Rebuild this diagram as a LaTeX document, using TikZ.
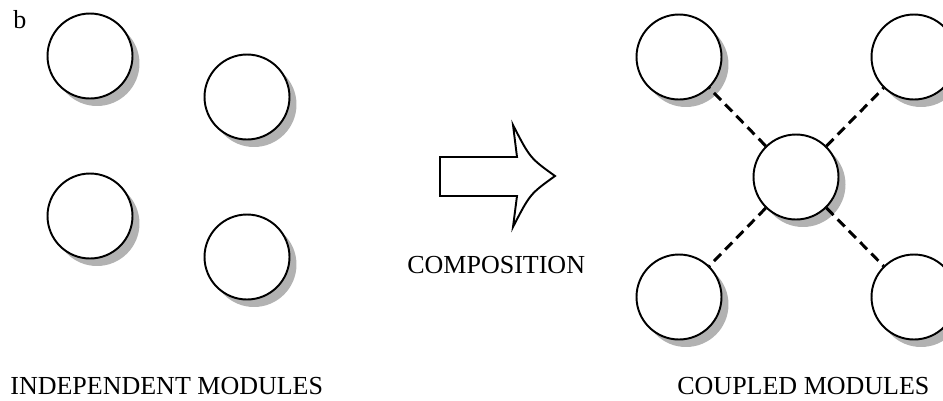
\documentclass[tikz,border=0pt]{standalone}
\usepackage{fontspec}
\setmainfont{Liberation Serif}
\usetikzlibrary{shadows}

\begin{document}
\begin{tikzpicture}[x=0.02cm, y=-0.02cm,
	module/.style={circle, draw, line width=1.1pt, fill=white, minimum size=1.70cm, inner sep=0pt,
		drop shadow={shadow xshift=0.14cm, shadow yshift=-0.15cm, fill=black!30, opacity=1}},
	coupling/.style={line width=1.7pt, dash pattern=on 5.7pt off 3.4pt},
	caption/.style={anchor=base west, inner sep=0pt, font=\fontsize{14.8}{17}\selectfont}]
	
	\clip (0,0) rectangle (943,400);
	
	\node [caption]    (tag)    at (13,28)     {b};
	
	% independent modules
	\node [module]    (ia)    at (90,56)     {};
	\node [module]    (ib)    at (247,97)    {};
	\node [module]    (ic)    at (90,216)    {};
	\node [module]    (id)    at (247,257)   {};
	
	% composition arrow
	\draw [line width=1.1pt, fill=white, line join=miter]
		(440,157) -- (517,157) -- (513,125) .. controls (530,158) .. (555,176)
		.. controls (530,194) .. (513,227) -- (517,196) -- (440,196) -- cycle;
	
	% coupled modules
	\node [module]    (cc)    at (796,177)   {};
	\node [module]    (ca)    at (679,57)    {};
	\node [module]    (cb)    at (914,57)    {};
	\node [module]    (cd)    at (679,297)   {};
	\node [module]    (ce)    at (914,297)   {};
	
	\draw [coupling] (cc) -- (ca);
	\draw [coupling] (cc) -- (cb);
	\draw [coupling] (cc) -- (cd);
	\draw [coupling] (cc) -- (ce);
	
	\node [caption]    (indep)    at (10,394)     {INDEPENDENT MODULES};
	\node [caption]    (comp)     at (407,273)    {COMPOSITION};
	\node [caption]    (coupled)  at (677,394)    {COUPLED MODULES};
	
\end{tikzpicture}
\end{document}
